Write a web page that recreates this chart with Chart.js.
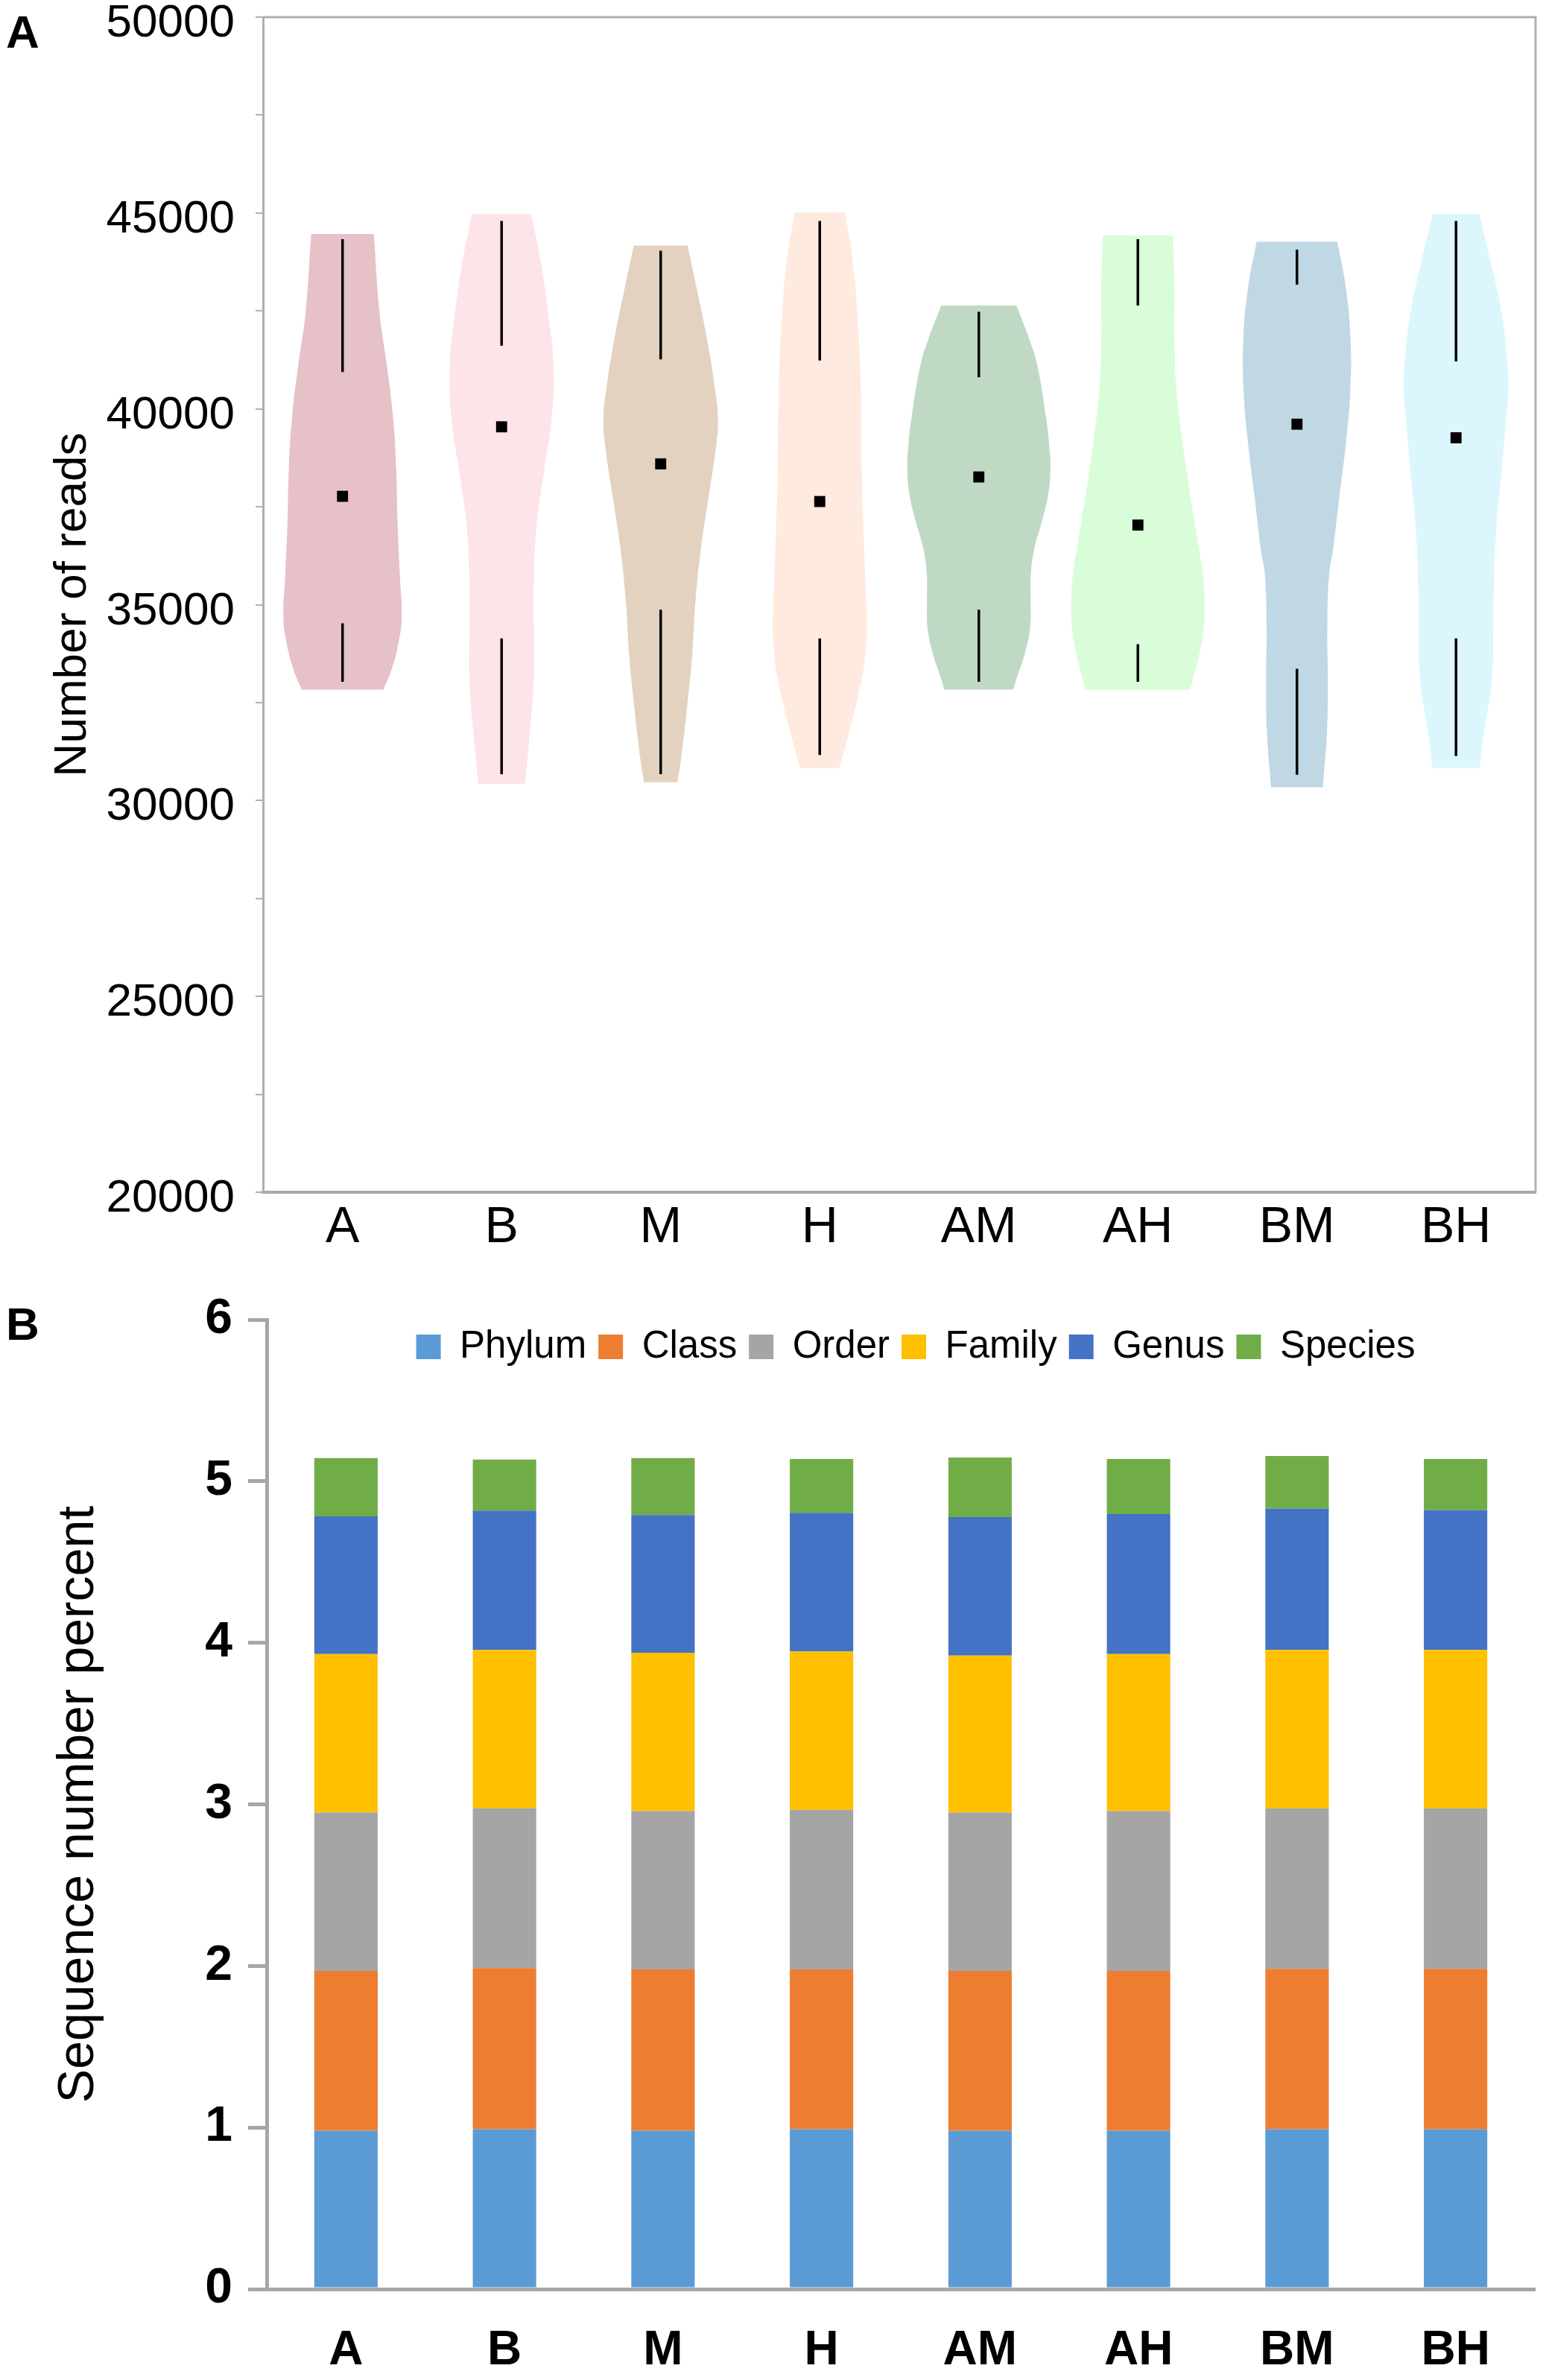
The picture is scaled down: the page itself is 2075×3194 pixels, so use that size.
<!DOCTYPE html>
<html><head><meta charset="utf-8">
<script src="https://cdn.jsdelivr.net/npm/chart.js@4.4.1/dist/chart.umd.min.js"></script>
<style>
html,body{margin:0;padding:0;background:#fff;}
body{width:2075px;height:3194px;position:relative;overflow:hidden;font-family:"Liberation Sans",Arial,sans-serif;}
#cA{position:absolute;left:0;top:0;}
#cB{position:absolute;left:0;top:1700px;}
.pl{position:absolute;font-weight:bold;font-size:62px;line-height:1;color:#000;}
</style></head><body>
<canvas id="cA" width="2075" height="1700" style="width:2075px;height:1700px"></canvas>
<canvas id="cB" width="2075" height="1494" style="width:2075px;height:1494px"></canvas>
<div class="pl" style="left:8px;top:12px">A</div>
<div class="pl" style="left:8px;top:1746px">B</div>
<script>
const FONT = "'Liberation Sans', Arial, sans-serif";
const categories = ['A','B','M','H','AM','AH','BM','BH'];

// ---- Panel A: violin plot data ----
const yTicksA = [20000,25000,30000,35000,40000,45000,50000];
const violinColors = ['#e7c1c8','#fde4e8','#e2d2bf','#feeadf','#c0d9c4','#d8fdd8','#c0d8e4','#dcf6fd'];
// density profile: value levels (bottom -> top) and half-widths (fraction of category slot)
const violinLevels = [
  [32832,33365,34032,34699,35766,37100,38434,39768,41102,42436,44464],
  [30430,31764,33098,34432,35766,37100,38434,39768,41102,42436,43770,44971],
  [30470,31097,32431,33765,35099,36433,37767,39101,39768,40435,41769,43103,44170],
  [30831,31764,33098,33765,34432,35766,37100,38434,39768,41102,42436,43770,45011],
  [32832,33098,33765,34432,35099,35766,36433,37100,37767,38434,39101,39768,41102,41769,42636],
  [32832,33098,33765,34432,35099,35766,36433,37100,37767,39101,40435,41769,43103,44424],
  [30337,31764,33098,34432,35766,36433,37767,39101,40435,41769,43103,44264],
  [30831,31764,33098,34432,35766,37100,38434,39768,40435,41102,42436,43770,44971]
];
const violinHalfWidths = [
  [0.257,0.310,0.352,0.372,0.360,0.346,0.338,0.318,0.279,0.233,0.197],
  [0.147,0.178,0.202,0.202,0.203,0.222,0.268,0.315,0.326,0.293,0.245,0.186],
  [0.105,0.129,0.167,0.199,0.219,0.253,0.302,0.350,0.360,0.344,0.292,0.225,0.169],
  [0.124,0.186,0.264,0.287,0.295,0.285,0.273,0.264,0.261,0.254,0.236,0.208,0.158],
  [0.217,0.236,0.290,0.323,0.326,0.327,0.349,0.395,0.434,0.450,0.442,0.423,0.368,0.318,0.237],
  [0.329,0.346,0.388,0.414,0.419,0.408,0.383,0.357,0.330,0.282,0.243,0.230,0.230,0.219],
  [0.163,0.189,0.194,0.191,0.202,0.228,0.267,0.307,0.335,0.337,0.307,0.254],
  [0.147,0.178,0.225,0.234,0.240,0.256,0.287,0.315,0.329,0.324,0.287,0.217,0.147]
];
const medians = [37767,39541,38594,37634,38261,37033,39608,39261];
const lowerWhiskers = [[33032,34526],[30671,34139],[30671,34872],[31164,34139],[33032,34872],[33032,33992],[30657,33365],[31137,34139]];
const upperWhiskers = [[40942,44330],[41609,44797],[41262,44037],[41236,44797],[40809,42476],[42636,44330],[43170,44064],[41209,44797]];

// ---- Panel B: stacked bars ----
const seriesNames = ['Phylum','Class','Order','Family','Genus','Species'];
const seriesColors = ['#5b9bd5','#ed7d31','#a5a5a5','#ffc000','#4472c4','#70ad47'];
const phylum  = [0.980,0.989,0.980,0.989,0.980,0.980,0.989,0.989];
const classV  = [0.989,0.998,0.998,0.989,0.989,0.989,0.993,0.993];
const order   = [0.980,0.989,0.980,0.989,0.980,0.989,0.994,0.994];
const family  = [0.981,0.980,0.980,0.980,0.972,0.972,0.980,0.980];
const genus   = [0.852,0.862,0.853,0.857,0.857,0.866,0.875,0.866];
const species = [0.361,0.316,0.352,0.334,0.369,0.342,0.325,0.316];
const seriesValues = [phylum, classV, order, family, genus, species];
const yTicksB = [0,1,2,3,4,5,6];

// ---- build violin outlines ----
function violinPoints(i) {
  const lv = violinLevels[i], hw = violinHalfWidths[i], n = lv.length;
  const pts = [{x: i - hw[0], y: lv[0]}];
  for (let k = 0; k < n; k++) pts.push({x: i - hw[k], y: lv[k]});
  pts.push({x: i - hw[n-1], y: lv[n-1]});
  pts.push({x: i + hw[n-1], y: lv[n-1]});
  for (let k = n - 1; k >= 0; k--) pts.push({x: i + hw[k], y: lv[k]});
  pts.push({x: i + hw[0], y: lv[0]});
  return pts;
}
const violinDatasets = categories.map((c, i) => ({
  type: 'line', label: c, data: violinPoints(i), fill: 'shape', order: 10,
  backgroundColor: violinColors[i], borderColor: violinColors[i], borderWidth: 0,
  pointRadius: 0, tension: 0.45
}));
const whiskerData = [];
categories.forEach((c, i) => {
  whiskerData.push({x:i, y:lowerWhiskers[i][0]}, {x:i, y:lowerWhiskers[i][1]}, {x:i, y:null},
                   {x:i, y:upperWhiskers[i][0]}, {x:i, y:upperWhiskers[i][1]}, {x:i, y:null});
});
const whiskerDataset = {type:'line', order: 1, data: whiskerData, borderColor:'#000', borderWidth:3.5, pointRadius:0, tension:0, fill:false, spanGaps:false, borderCapStyle:'butt'};
const medianDataset = {type:'line', order: 0, data: medians.map((m, i) => ({x:i, y:m})), showLine:false, pointStyle:'rect', pointRadius:10.5, pointBackgroundColor:'#000', pointBorderColor:'#000', pointBorderWidth:0, fill:false};

const framePlugin = {
  id: 'frame',
  afterDraw(chart) {
    const {ctx, chartArea: {left, top, right, bottom}} = chart;
    ctx.save();
    ctx.strokeStyle = '#b0b0b0'; ctx.lineWidth = 3;
    ctx.beginPath(); ctx.moveTo(left, top); ctx.lineTo(right, top); ctx.lineTo(right, bottom); ctx.stroke();
    ctx.restore();
  }
};
const legendPlace = {
  id: 'legendPlace',
  afterLayout(chart) {
    const lg = chart.legend;
    if (!lg) return;
    lg.top = 66; lg.height = 80; lg.bottom = 146;
    lg.left += 20; lg.right += 20;
  }
};

new Chart(document.getElementById('cA'), {
  type: 'line',
  data: { datasets: [...violinDatasets, whiskerDataset, medianDataset] },
  options: {
    responsive: false, devicePixelRatio: 1, animation: false, events: [],
    layout: { padding: { top: 23, right: 14, left: 0, bottom: 0 } },
    plugins: { legend: { display: false }, tooltip: { enabled: false } },
    scales: {
      x: {
        type: 'linear', min: -0.5, max: 7.5, bounds: 'data',
        afterBuildTicks: s => { s.ticks = categories.map((c, i) => ({value: i})); },
        afterFit: s => { s.height = 100; s.paddingLeft = 0; s.paddingRight = 0; },
        grid: { display: false, drawTicks: false },
        border: { display: true, color: '#a8a8a8', width: 4 },
        ticks: { callback: v => categories[v] !== undefined ? categories[v] : '', font: {family: FONT, size: 68}, color: '#000', padding: 7, maxRotation: 0, autoSkip: false }
      },
      y: {
        type: 'linear', min: 20000, max: 50000,
        afterFit: s => { s.width = 353; s.paddingTop = 0; s.paddingBottom = 0; },
        ticks: { stepSize: 2500, autoSkip: false, callback: v => yTicksA.includes(v) ? String(v) : '', font: {family: FONT, size: 62}, color: '#000', padding: 28, labelOffset: 9 },
        grid: { drawOnChartArea: false, drawTicks: true, tickLength: 10, color: '#b0b0b0', lineWidth: 2 },
        border: { color: '#b0b0b0', width: 3 },
        title: { display: true, text: 'Number of reads', font: {family: FONT, size: 62}, color: '#000', padding: {top: 61, bottom: 0} }
      }
    }
  },
  plugins: [framePlugin]
});

new Chart(document.getElementById('cB'), {
  type: 'bar',
  data: {
    labels: categories,
    datasets: seriesNames.map((n, k) => ({ label: n, data: seriesValues[k], backgroundColor: seriesColors[k], borderWidth: 0, barPercentage: 0.4, categoryPercentage: 1 }))
  },
  options: {
    responsive: false, devicePixelRatio: 1, animation: false, events: [],
    layout: { padding: { top: 63, right: 15, left: 0, bottom: 0 } },
    plugins: {
      legend: { display: true, position: 'top', fullSize: false, maxHeight: 8,
        labels: { boxWidth: 33, boxHeight: 33, padding: 16, font: {family: FONT, size: 51}, color: '#000' } },
      tooltip: { enabled: false }
    },
    scales: {
      x: {
        stacked: true,
        afterFit: s => { s.height = 122; s.paddingLeft = 0; s.paddingRight = 0; },
        grid: { display: false, drawTicks: false },
        border: { color: '#a6a6a6', width: 5 },
        ticks: { font: {family: FONT, size: 64, weight: 'bold'}, color: '#000', padding: 45, maxRotation: 0, autoSkip: false }
      },
      y: {
        stacked: true, min: 0, max: 6,
        afterFit: s => { s.width = 358; s.paddingTop = 0; s.paddingBottom = 0; },
        ticks: { stepSize: 1, callback: v => yTicksB.includes(v) ? String(v) : '', font: {family: FONT, size: 66, weight: 'bold'}, color: '#000', padding: 21 },
        grid: { drawOnChartArea: false, drawTicks: true, tickLength: 25, color: '#a6a6a6', lineWidth: 5 },
        border: { color: '#a6a6a6', width: 5 },
        title: { display: true, text: 'Sequence number percent', font: {family: FONT, size: 68}, color: '#000', padding: {top: 65, bottom: 0} }
      }
    }
  },
  plugins: [legendPlace]
});
</script></body></html>
